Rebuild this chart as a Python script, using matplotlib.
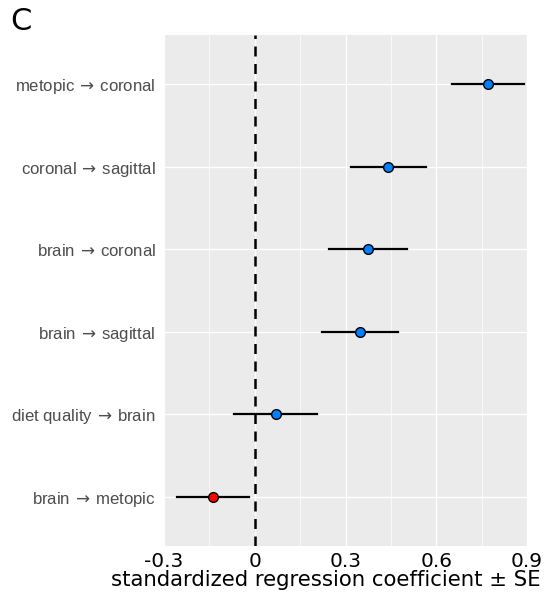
import matplotlib
matplotlib.use('Agg')
import matplotlib.pyplot as plt
from matplotlib.ticker import MultipleLocator

plt.rcParams['mathtext.fontset'] = 'dejavusans'

# paths, bottom to top
arrow = r'$\,\rightarrow\,$'
paths = ['brain' + arrow + 'metopic', 'diet quality' + arrow + 'brain', 'brain' + arrow + 'sagittal',
         'brain' + arrow + 'coronal', 'coronal' + arrow + 'sagittal', 'metopic' + arrow + 'coronal']
coef = [-0.138, 0.069, 0.349, 0.375, 0.442, 0.772]
se = [0.118, 0.138, 0.126, 0.128, 0.125, 0.119]
colors = ['#ff0000', '#0080ff', '#0080ff', '#0080ff', '#0080ff', '#0080ff']
xticks = [-0.3, 0, 0.3, 0.6, 0.9]
xticklabels = ['-0.3', '0', '0.3', '0.6', '0.9']

fig = plt.figure(figsize=(5.45, 6.01), dpi=100)
ax = fig.add_axes([0.301, 0.0915, 0.666, 0.851])
ax.set_facecolor('#ebebeb')
for s in ax.spines.values():
    s.set_visible(False)

ax.set_xlim(-0.3, 0.9)
ax.set_ylim(-0.6, len(paths) - 0.4)
ax.xaxis.set_minor_locator(MultipleLocator(0.15))
ax.grid(which='major', color='white', lw=1.0)
ax.grid(which='minor', axis='x', color='white', lw=0.5)
ax.set_axisbelow(True)

ax.axvline(0, color='black', lw=1.8, ls=(0, (4, 3)), zorder=2)

for i in range(len(paths)):
    ax.plot([coef[i] - se[i], coef[i] + se[i]], [i, i], color='black', lw=1.6, zorder=3)
    ax.plot(coef[i], i, 'o', ms=7, mfc=colors[i], mec='black', mew=1.0, zorder=4)

ax.set_yticks(range(len(paths)))
ax.set_yticklabels(paths, family='Liberation Sans', fontsize=12.1, color='#4d4d4d')
ax.set_xticks(xticks)
ax.set_xticklabels(xticklabels, fontsize=14.5)
ax.tick_params(which='both', length=0)
ax.tick_params(axis='y', pad=6)
ax.tick_params(axis='x', pad=4)

fig.text(0.597, 0.018, 'standardized regression coefficient \u00b1 SE', fontsize=15.3,
         ha='center', va='bottom')
fig.text(0.018, 0.94, 'C', fontsize=22, va='bottom', ha='left')

fig.savefig('out.png', dpi=100)
